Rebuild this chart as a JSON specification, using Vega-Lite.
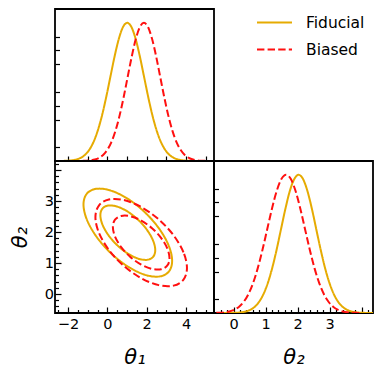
{
  "$schema": "https://vega.github.io/schema/vega-lite/v6.json",
  "padding": {"left": 8, "top": 4, "right": 5, "bottom": 5},
  "background": "white",
  "columns": 2,
  "spacing": 0,
  "bounds": "flush",
  "datasets": {
    "t1": [
      {"s":"Fiducial","x":-2.645,"p":0.0001},{"s":"Fiducial","x":-2.43,"p":0.0003},{"s":"Fiducial","x":-2.215,"p":0.0009},{"s":"Fiducial","x":-2.0,"p":0.0022},{"s":"Fiducial","x":-1.785,"p":0.0051},{"s":"Fiducial","x":-1.57,"p":0.0111},{"s":"Fiducial","x":-1.355,"p":0.0228},{"s":"Fiducial","x":-1.14,"p":0.0439},{"s":"Fiducial","x":-0.925,"p":0.0796},{"s":"Fiducial","x":-0.71,"p":0.1353},{"s":"Fiducial","x":-0.495,"p":0.2163},{"s":"Fiducial","x":-0.28,"p":0.3247},{"s":"Fiducial","x":-0.065,"p":0.4578},{"s":"Fiducial","x":0.15,"p":0.6065},{"s":"Fiducial","x":0.365,"p":0.7548},{"s":"Fiducial","x":0.58,"p":0.8825},{"s":"Fiducial","x":0.795,"p":0.9692},{"s":"Fiducial","x":1.01,"p":1},{"s":"Fiducial","x":1.225,"p":0.9692},{"s":"Fiducial","x":1.44,"p":0.8825},{"s":"Fiducial","x":1.655,"p":0.7548},{"s":"Fiducial","x":1.87,"p":0.6065},{"s":"Fiducial","x":2.085,"p":0.4578},{"s":"Fiducial","x":2.3,"p":0.3247},{"s":"Fiducial","x":2.515,"p":0.2163},{"s":"Fiducial","x":2.73,"p":0.1353},{"s":"Fiducial","x":2.945,"p":0.0796},{"s":"Fiducial","x":3.16,"p":0.0439},{"s":"Fiducial","x":3.375,"p":0.0228},{"s":"Fiducial","x":3.59,"p":0.0111},{"s":"Fiducial","x":3.805,"p":0.0051},{"s":"Fiducial","x":4.02,"p":0.0022},{"s":"Fiducial","x":4.235,"p":0.0009},{"s":"Fiducial","x":4.45,"p":0.0003},{"s":"Fiducial","x":4.665,"p":0.0001},{"s":"Fiducial","x":4.88,"p":0},
      {"s":"Biased","x":-1.875,"p":0},{"s":"Biased","x":-1.668,"p":0.0001},{"s":"Biased","x":-1.46,"p":0.0003},{"s":"Biased","x":-1.253,"p":0.0009},{"s":"Biased","x":-1.045,"p":0.0022},{"s":"Biased","x":-0.838,"p":0.0051},{"s":"Biased","x":-0.63,"p":0.0111},{"s":"Biased","x":-0.423,"p":0.0228},{"s":"Biased","x":-0.215,"p":0.0439},{"s":"Biased","x":-0.008,"p":0.0796},{"s":"Biased","x":0.2,"p":0.1353},{"s":"Biased","x":0.408,"p":0.2163},{"s":"Biased","x":0.615,"p":0.3247},{"s":"Biased","x":0.823,"p":0.4578},{"s":"Biased","x":1.03,"p":0.6065},{"s":"Biased","x":1.238,"p":0.7548},{"s":"Biased","x":1.445,"p":0.8825},{"s":"Biased","x":1.653,"p":0.9692},{"s":"Biased","x":1.86,"p":1},{"s":"Biased","x":2.068,"p":0.9692},{"s":"Biased","x":2.275,"p":0.8825},{"s":"Biased","x":2.483,"p":0.7548},{"s":"Biased","x":2.69,"p":0.6065},{"s":"Biased","x":2.898,"p":0.4578},{"s":"Biased","x":3.105,"p":0.3247},{"s":"Biased","x":3.313,"p":0.2163},{"s":"Biased","x":3.52,"p":0.1353},{"s":"Biased","x":3.728,"p":0.0796},{"s":"Biased","x":3.935,"p":0.0439},{"s":"Biased","x":4.143,"p":0.0228},{"s":"Biased","x":4.35,"p":0.0111},{"s":"Biased","x":4.558,"p":0.0051},{"s":"Biased","x":4.765,"p":0.0022},{"s":"Biased","x":4.973,"p":0.0009},{"s":"Biased","x":5.18,"p":0.0003},{"s":"Biased","x":5.388,"p":0.0001}
    ],
    "t2": [
      {"s":"Fiducial","x":-0.308,"p":0.0001},{"s":"Fiducial","x":-0.17,"p":0.0003},{"s":"Fiducial","x":-0.033,"p":0.0009},{"s":"Fiducial","x":0.105,"p":0.0022},{"s":"Fiducial","x":0.243,"p":0.0051},{"s":"Fiducial","x":0.38,"p":0.0111},{"s":"Fiducial","x":0.518,"p":0.0228},{"s":"Fiducial","x":0.655,"p":0.0439},{"s":"Fiducial","x":0.793,"p":0.0796},{"s":"Fiducial","x":0.93,"p":0.1353},{"s":"Fiducial","x":1.068,"p":0.2163},{"s":"Fiducial","x":1.205,"p":0.3247},{"s":"Fiducial","x":1.343,"p":0.4578},{"s":"Fiducial","x":1.48,"p":0.6065},{"s":"Fiducial","x":1.618,"p":0.7548},{"s":"Fiducial","x":1.755,"p":0.8825},{"s":"Fiducial","x":1.893,"p":0.9692},{"s":"Fiducial","x":2.03,"p":1},{"s":"Fiducial","x":2.168,"p":0.9692},{"s":"Fiducial","x":2.305,"p":0.8825},{"s":"Fiducial","x":2.443,"p":0.7548},{"s":"Fiducial","x":2.58,"p":0.6065},{"s":"Fiducial","x":2.718,"p":0.4578},{"s":"Fiducial","x":2.855,"p":0.3247},{"s":"Fiducial","x":2.993,"p":0.2163},{"s":"Fiducial","x":3.13,"p":0.1353},{"s":"Fiducial","x":3.268,"p":0.0796},{"s":"Fiducial","x":3.405,"p":0.0439},{"s":"Fiducial","x":3.543,"p":0.0228},{"s":"Fiducial","x":3.68,"p":0.0111},{"s":"Fiducial","x":3.818,"p":0.0051},{"s":"Fiducial","x":3.955,"p":0.0022},{"s":"Fiducial","x":4.093,"p":0.0009},{"s":"Fiducial","x":4.23,"p":0.0003},{"s":"Fiducial","x":4.368,"p":0.0001},
      {"s":"Biased","x":-0.868,"p":0.0001},{"s":"Biased","x":-0.72,"p":0.0003},{"s":"Biased","x":-0.573,"p":0.0009},{"s":"Biased","x":-0.425,"p":0.0022},{"s":"Biased","x":-0.278,"p":0.0051},{"s":"Biased","x":-0.13,"p":0.0111},{"s":"Biased","x":0.018,"p":0.0228},{"s":"Biased","x":0.165,"p":0.0439},{"s":"Biased","x":0.313,"p":0.0796},{"s":"Biased","x":0.46,"p":0.1353},{"s":"Biased","x":0.608,"p":0.2163},{"s":"Biased","x":0.755,"p":0.3247},{"s":"Biased","x":0.903,"p":0.4578},{"s":"Biased","x":1.05,"p":0.6065},{"s":"Biased","x":1.198,"p":0.7548},{"s":"Biased","x":1.345,"p":0.8825},{"s":"Biased","x":1.493,"p":0.9692},{"s":"Biased","x":1.64,"p":1},{"s":"Biased","x":1.788,"p":0.9692},{"s":"Biased","x":1.935,"p":0.8825},{"s":"Biased","x":2.083,"p":0.7548},{"s":"Biased","x":2.23,"p":0.6065},{"s":"Biased","x":2.378,"p":0.4578},{"s":"Biased","x":2.525,"p":0.3247},{"s":"Biased","x":2.673,"p":0.2163},{"s":"Biased","x":2.82,"p":0.1353},{"s":"Biased","x":2.968,"p":0.0796},{"s":"Biased","x":3.115,"p":0.0439},{"s":"Biased","x":3.263,"p":0.0228},{"s":"Biased","x":3.41,"p":0.0111},{"s":"Biased","x":3.558,"p":0.0051},{"s":"Biased","x":3.705,"p":0.0022},{"s":"Biased","x":3.853,"p":0.0009},{"s":"Biased","x":4.0,"p":0.0003}
    ],
    "c2": [
      {"s":"Fiducial","lv":"95","i":0,"x":3.292,"y":1.071},{"s":"Fiducial","lv":"95","i":1,"x":3.121,"y":1.558},{"s":"Fiducial","lv":"95","i":2,"x":2.632,"y":2.109},{"s":"Fiducial","lv":"95","i":3,"x":1.902,"y":2.64},{"s":"Fiducial","lv":"95","i":4,"x":1.04,"y":3.071},{"s":"Fiducial","lv":"95","i":5,"x":0.178,"y":3.336},{"s":"Fiducial","lv":"95","i":6,"x":-0.552,"y":3.394},{"s":"Fiducial","lv":"95","i":7,"x":-1.041,"y":3.237},{"s":"Fiducial","lv":"95","i":8,"x":-1.212,"y":2.889},{"s":"Fiducial","lv":"95","i":9,"x":-1.041,"y":2.402},{"s":"Fiducial","lv":"95","i":10,"x":-0.552,"y":1.851},{"s":"Fiducial","lv":"95","i":11,"x":0.178,"y":1.32},{"s":"Fiducial","lv":"95","i":12,"x":1.04,"y":0.889},{"s":"Fiducial","lv":"95","i":13,"x":1.902,"y":0.624},{"s":"Fiducial","lv":"95","i":14,"x":2.632,"y":0.566},{"s":"Fiducial","lv":"95","i":15,"x":3.121,"y":0.723},
      {"s":"Fiducial","lv":"68","i":0,"x":2.434,"y":1.418},{"s":"Fiducial","lv":"68","i":1,"x":2.328,"y":1.719},{"s":"Fiducial","lv":"68","i":2,"x":2.026,"y":2.06},{"s":"Fiducial","lv":"68","i":3,"x":1.574,"y":2.389},{"s":"Fiducial","lv":"68","i":4,"x":1.04,"y":2.655},{"s":"Fiducial","lv":"68","i":5,"x":0.507,"y":2.819},{"s":"Fiducial","lv":"68","i":6,"x":0.054,"y":2.855},{"s":"Fiducial","lv":"68","i":7,"x":-0.248,"y":2.758},{"s":"Fiducial","lv":"68","i":8,"x":-0.354,"y":2.542},{"s":"Fiducial","lv":"68","i":9,"x":-0.248,"y":2.241},{"s":"Fiducial","lv":"68","i":10,"x":0.054,"y":1.9},{"s":"Fiducial","lv":"68","i":11,"x":0.507,"y":1.571},{"s":"Fiducial","lv":"68","i":12,"x":1.04,"y":1.305},{"s":"Fiducial","lv":"68","i":13,"x":1.574,"y":1.141},{"s":"Fiducial","lv":"68","i":14,"x":2.026,"y":1.105},{"s":"Fiducial","lv":"68","i":15,"x":2.328,"y":1.202},
      {"s":"Biased","lv":"95","i":0,"x":4.046,"y":0.843},{"s":"Biased","lv":"95","i":1,"x":3.869,"y":1.345},{"s":"Biased","lv":"95","i":2,"x":3.365,"y":1.894},{"s":"Biased","lv":"95","i":3,"x":2.61,"y":2.407},{"s":"Biased","lv":"95","i":4,"x":1.72,"y":2.807},{"s":"Biased","lv":"95","i":5,"x":0.83,"y":3.032},{"s":"Biased","lv":"95","i":6,"x":0.075,"y":3.048},{"s":"Biased","lv":"95","i":7,"x":-0.429,"y":2.854},{"s":"Biased","lv":"95","i":8,"x":-0.606,"y":2.477},{"s":"Biased","lv":"95","i":9,"x":-0.429,"y":1.976},{"s":"Biased","lv":"95","i":10,"x":0.075,"y":1.426},{"s":"Biased","lv":"95","i":11,"x":0.83,"y":0.913},{"s":"Biased","lv":"95","i":12,"x":1.72,"y":0.513},{"s":"Biased","lv":"95","i":13,"x":2.61,"y":0.288},{"s":"Biased","lv":"95","i":14,"x":3.365,"y":0.272},{"s":"Biased","lv":"95","i":15,"x":3.869,"y":0.467},
      {"s":"Biased","lv":"68","i":0,"x":3.159,"y":1.155},{"s":"Biased","lv":"68","i":1,"x":3.05,"y":1.465},{"s":"Biased","lv":"68","i":2,"x":2.738,"y":1.805},{"s":"Biased","lv":"68","i":3,"x":2.271,"y":2.122},{"s":"Biased","lv":"68","i":4,"x":1.72,"y":2.37},{"s":"Biased","lv":"68","i":5,"x":1.169,"y":2.509},{"s":"Biased","lv":"68","i":6,"x":0.702,"y":2.519},{"s":"Biased","lv":"68","i":7,"x":0.39,"y":2.398},{"s":"Biased","lv":"68","i":8,"x":0.281,"y":2.165},{"s":"Biased","lv":"68","i":9,"x":0.39,"y":1.855},{"s":"Biased","lv":"68","i":10,"x":0.702,"y":1.515},{"s":"Biased","lv":"68","i":11,"x":1.169,"y":1.198},{"s":"Biased","lv":"68","i":12,"x":1.72,"y":0.95},{"s":"Biased","lv":"68","i":13,"x":2.271,"y":0.811},{"s":"Biased","lv":"68","i":14,"x":2.738,"y":0.801},{"s":"Biased","lv":"68","i":15,"x":3.05,"y":0.922}
    ]
  },
  "concat": [
    {
      "width": 159, "height": 152,
      "data": {"name": "t1"},
      "mark": {"type": "line", "strokeWidth": 2, "clip": true, "interpolate": "monotone"},
      "encoding": {
        "x": {"field": "x", "type": "quantitative", "scale": {"domain": [-2.66, 5.42], "nice": false, "zero": false},
              "axis": {"title": null, "labels": false, "values": [-2,-1,0,1,2,3,4,5], "tickSize": -5}},
        "y": {"field": "p", "type": "quantitative", "scale": {"domain": [0, 1.1], "nice": false},
              "axis": {"title": null, "labels": false, "values": [0.1,0.3,0.4,0.5,0.7,0.8,0.9], "tickSize": -4.5}},
        "color": {"field": "s", "type": "nominal", "scale": {"domain": ["Fiducial","Biased"], "range": ["#e6ab02","#ff1010"]},
                  "legend": {"title": null, "orient": "none", "legendX": 201, "legendY": -5, "symbolType": "stroke", "symbolSize": 1225, "symbolStrokeWidth": 2, "labelFontSize": 15.5, "labelOffset": 13, "rowPadding": -13, "padding": 0}},
        "strokeDash": {"field": "s", "type": "nominal", "scale": {"domain": ["Fiducial","Biased"], "range": [[1,0],[7.4,3.2]]},
                  "legend": {"title": null, "orient": "none", "legendX": 201, "legendY": -5, "symbolType": "stroke", "symbolSize": 1225, "symbolStrokeWidth": 2, "labelFontSize": 15.5, "labelOffset": 13, "rowPadding": -13, "padding": 0}}
      }
    },
    {
      "width": 159, "height": 152,
      "view": {"stroke": null},
      "data": {"values": []},
      "mark": "point"
    },
    {
      "width": 159, "height": 152,
      "data": {"name": "c2"},
      "mark": {"type": "line", "strokeWidth": 2, "clip": true, "interpolate": "cardinal-closed"},
      "encoding": {
        "x": {"field": "x", "type": "quantitative", "scale": {"domain": [-2.66, 5.42], "nice": false, "zero": false},
              "axis": {"title": "θ₁", "format": "~g", "values": [-2.5,-2,-1.5,-1,-0.5,0,0.5,1,1.5,2,2.5,3,3.5,4,4.5,5],
                       "labelExpr": "datum.value % 2 === 0 ? datum.label : ''",
                       "tickSize": {"condition": {"test": "datum.value % 2 === 0", "value": -6}, "value": -3.5},
                       "labelPadding": 10, "titleY": 50, "titleBaseline": "alphabetic"}},
        "y": {"field": "y", "type": "quantitative", "scale": {"domain": [-0.61, 4.29], "nice": false, "zero": false},
              "axis": {"title": "θ₂", "format": "~g", "values": [-0.4,-0.2,0,0.2,0.4,0.6,0.8,1,1.2,1.4,1.6,1.8,2,2.2,2.4,2.6,2.8,3,3.2,3.4,3.6,3.8,4,4.2],
                       "labelExpr": "datum.value % 1 === 0 && datum.value < 3.5 ? datum.label : ''",
                       "tickSize": {"condition": {"test": "datum.value % 1 === 0", "value": -6}, "value": -3.5},
                       "labelPadding": 7.5, "titleX": -29, "titleBaseline": "alphabetic"}},
        "color": {"field": "s", "type": "nominal", "scale": {"domain": ["Fiducial","Biased"], "range": ["#e6ab02","#ff1010"]},
                  "legend": {"title": null, "orient": "none", "legendX": 201, "legendY": -5, "symbolType": "stroke", "symbolSize": 1225, "symbolStrokeWidth": 2, "labelFontSize": 15.5, "labelOffset": 13, "rowPadding": -13, "padding": 0}},
        "strokeDash": {"field": "s", "type": "nominal", "scale": {"domain": ["Fiducial","Biased"], "range": [[1,0],[7.4,3.2]]},
                  "legend": {"title": null, "orient": "none", "legendX": 201, "legendY": -5, "symbolType": "stroke", "symbolSize": 1225, "symbolStrokeWidth": 2, "labelFontSize": 15.5, "labelOffset": 13, "rowPadding": -13, "padding": 0}},
        "detail": {"field": "lv", "type": "nominal"},
        "order": {"field": "i", "type": "quantitative"}
      }
    },
    {
      "width": 159, "height": 152,
      "data": {"name": "t2"},
      "mark": {"type": "line", "strokeWidth": 2, "clip": true, "interpolate": "monotone"},
      "encoding": {
        "x": {"field": "x", "type": "quantitative", "scale": {"domain": [-0.61, 4.35], "nice": false, "zero": false},
              "axis": {"title": "θ₂", "format": "~g", "values": [-0.4,-0.2,0,0.2,0.4,0.6,0.8,1,1.2,1.4,1.6,1.8,2,2.2,2.4,2.6,2.8,3,3.2,3.4,3.6,3.8,4,4.2],
                       "labelExpr": "datum.value % 1 === 0 && datum.value < 3.5 ? datum.label : ''",
                       "tickSize": {"condition": {"test": "datum.value % 1 === 0", "value": -6}, "value": -3.5},
                       "labelPadding": 10, "titleY": 50, "titleBaseline": "alphabetic"}},
        "y": {"field": "p", "type": "quantitative", "scale": {"domain": [0, 1.1], "nice": false},
              "axis": {"title": null, "labels": false, "values": [0.1,0.3,0.4,0.5,0.7,0.8,0.9], "tickSize": -4.5}},
        "color": {"field": "s", "type": "nominal", "scale": {"domain": ["Fiducial","Biased"], "range": ["#e6ab02","#ff1010"]},
                  "legend": {"title": null, "orient": "none", "legendX": 201, "legendY": -5, "symbolType": "stroke", "symbolSize": 1225, "symbolStrokeWidth": 2, "labelFontSize": 15.5, "labelOffset": 13, "rowPadding": -13, "padding": 0}},
        "strokeDash": {"field": "s", "type": "nominal", "scale": {"domain": ["Fiducial","Biased"], "range": [[1,0],[7.4,3.2]]},
                  "legend": {"title": null, "orient": "none", "legendX": 201, "legendY": -5, "symbolType": "stroke", "symbolSize": 1225, "symbolStrokeWidth": 2, "labelFontSize": 15.5, "labelOffset": 13, "rowPadding": -13, "padding": 0}}
      }
    }
  ],
  "resolve": {"scale": {"x": "independent", "y": "independent", "color": "shared", "strokeDash": "shared"}},
  "config": {
    "font": "DejaVu Sans",
    "view": {"stroke": "black", "strokeWidth": 1.8},
    "axis": {"domain": false, "grid": false, "tickColor": "black", "tickWidth": 1.2, "labelColor": "black", "labelFontSize": 14.5, "labelFlush": false, "labelOverlap": false, "labelBound": false, "titleColor": "black", "titleFontSize": 21, "titleFontWeight": "normal", "titleFontStyle": "italic"},
    "legend": {"labelColor": "black", "labelFont": "DejaVu Sans"}
  }
}
